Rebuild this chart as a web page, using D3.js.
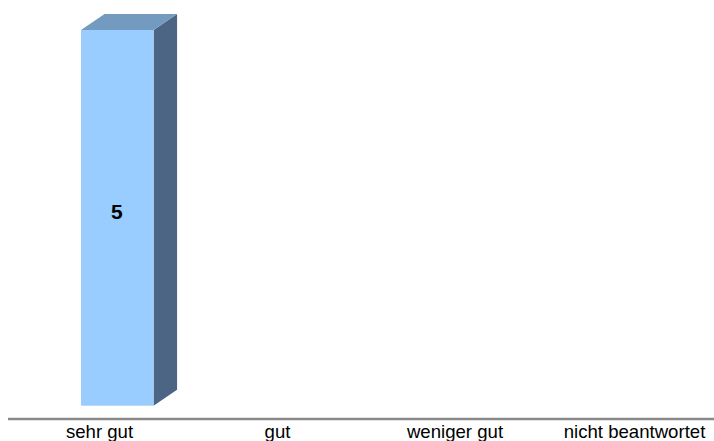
<!DOCTYPE html>
<html>
<head>
<meta charset="utf-8">
<script src="https://cdn.jsdelivr.net/npm/d3@7"></script>
<style>
  html, body { margin: 0; padding: 0; background: #fff; }
  svg { display: block; }
</style>
</head>
<body>
<div id="chart"></div>
<script>
const categories = ['sehr gut', 'gut', 'weniger gut', 'nicht beantwortet'];
const values = [5, 0, 0, 0];

const width = 714;
const height = 441;
const depthX = 23.5;
const depthY = 16;
const fontName = '"Liberation Sans", Arial, sans-serif';

const svg = d3.select('#chart').append('svg')
    .attr('width', width)
    .attr('height', height);

// bars are not centred over their labels in the original
const x = d3.scaleBand()
    .domain(categories)
    .range([28.8, 736.8])
    .paddingInner(0.59)
    .paddingOuter(0.295);

const labelX = d3.scaleOrdinal()
    .domain(categories)
    .range([99, 277, 454.5, 634]);

const y = d3.scaleLinear().domain([0, 5]).range([405.7, 30]);

const bars = svg.selectAll('g.bar')
    .data(categories.map((c, i) => ({ cat: c, val: values[i] })).filter(d => d.val > 0))
    .enter().append('g')
    .attr('class', 'bar');

// side face
bars.append('path')
    .attr('fill', '#4d6584')
    .attr('d', d => {
        const r = x(d.cat) + x.bandwidth();
        return `M${r},${y(d.val)}L${r + depthX},${y(d.val) - depthY}L${r + depthX},${y(0) - depthY}L${r},${y(0)}Z`;
    });

// top face
bars.append('path')
    .attr('fill', '#739bbf')
    .attr('d', d => {
        const l = x(d.cat), r = l + x.bandwidth(), t = y(d.val);
        return `M${l},${t}L${l + depthX},${t - depthY}L${r + depthX},${t - depthY}L${r},${t}Z`;
    });

bars.append('rect')
    .attr('fill', '#99ccff')
    .attr('x', d => x(d.cat))
    .attr('y', d => y(d.val))
    .attr('width', x.bandwidth())
    .attr('height', d => y(0) - y(d.val));

bars.append('text')
    .attr('x', d => x(d.cat) + x.bandwidth() / 2 - 0.5)
    .attr('y', d => (y(d.val) + y(0)) / 2 + 1)
    .attr('text-anchor', 'middle')
    .attr('font-family', fontName)
    .attr('font-size', 21)
    .attr('font-weight', 'bold')
    .attr('fill', '#000')
    .text(d => d.val);

// baseline
svg.append('line')
    .attr('x1', 8).attr('x2', width)
    .attr('y1', 419).attr('y2', 419)
    .attr('stroke', '#8a8a8a')
    .attr('stroke-width', 2.6);

const axis = svg.append('g')
    .attr('transform', 'translate(0,419)')
    .call(d3.axisBottom(labelX).tickSize(0).tickPadding(6));

axis.select('.domain').remove();
axis.selectAll('text')
    .attr('font-family', fontName)
    .attr('font-size', 18.6)
    .attr('fill', '#000');
</script>
</body>
</html>
